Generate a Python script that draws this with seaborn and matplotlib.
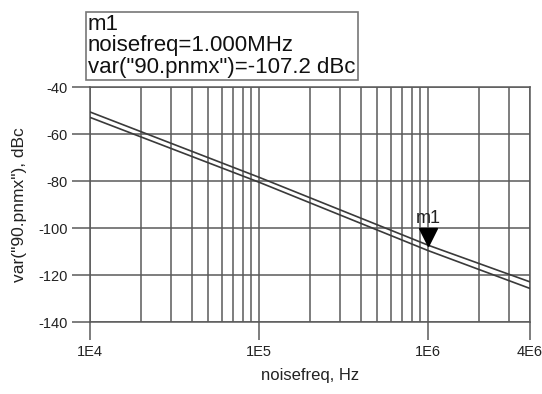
import matplotlib
matplotlib.use("Agg")
import matplotlib.pyplot as plt
import matplotlib.ticker as mticker
import matplotlib.transforms as mtransforms
import numpy as np
import pandas as pd
import seaborn as sns

# Phase noise of the two traces (dBc) versus offset frequency (Hz)
noisefreq = [1e4, 1e5, 1e6, 4e6]
trace_upper = [-50.5, -78.3, -107.2, -122.8]
trace_lower = [-52.8, -80.4, -109.5, -125.6]

x_ticks = [1e4, 1e5, 1e6, 4e6]
x_tick_labels = ["1E4", "1E5", "1E6", "4E6"]
y_ticks = [-140, -120, -100, -80, -60, -40]

marker_freq = 1e6
marker_value = -107.2
marker_name = "m1"

sns.set_theme(style="white")
plt.rcParams["font.family"] = ["Liberation Sans", "DejaVu Sans"]
plt.rcParams["axes.unicode_minus"] = False

df = pd.DataFrame({
    "noisefreq": noisefreq * 2,
    "value": trace_upper + trace_lower,
    "trace": ["upper"] * len(noisefreq) + ["lower"] * len(noisefreq),
})

fig = plt.figure(figsize=(5.42, 3.94), dpi=100)
ax = fig.add_axes([90 / 542, 1 - 322.3 / 394, (530 - 90) / 542, (322.3 - 87.3) / 394])

grid_color = "#5a5a5a"
sns.lineplot(data=df, x="noisefreq", y="value", hue="trace",
             palette={"upper": "#3a3a3a", "lower": "#3a3a3a"},
             linewidth=1.2, legend=False, ax=ax, zorder=3)

ax.set_xscale("log")
ax.set_xlim(1e4, 4e6)
ax.set_ylim(-140, -40)

ax.xaxis.set_major_locator(mticker.FixedLocator(x_ticks))
ax.xaxis.set_major_formatter(mticker.FixedFormatter(x_tick_labels))
ax.xaxis.set_minor_locator(mticker.LogLocator(base=10, subs=np.arange(2, 10), numticks=20))
ax.xaxis.set_minor_formatter(mticker.NullFormatter())
ax.yaxis.set_major_locator(mticker.FixedLocator(y_ticks))
ax.yaxis.set_minor_locator(mticker.MultipleLocator(10))

ax.xaxis.grid(True, which="both", color=grid_color, linewidth=1.1)
ax.yaxis.grid(True, which="major", color=grid_color, linewidth=1.1)
ax.set_axisbelow(True)

for s in ax.spines.values():
    s.set_visible(True)
    s.set_color(grid_color)
    s.set_linewidth(1.1)

ax.tick_params(axis="x", which="major", direction="out", length=13, width=1.1,
               color=grid_color, pad=3, labelsize=10.5, labelcolor="#222222")
ax.tick_params(axis="x", which="minor", length=0)
ax.tick_params(axis="y", which="major", direction="out", length=13, width=1.1,
               color=grid_color, pad=3, labelsize=10.5, labelcolor="#222222")
ax.tick_params(axis="y", which="minor", direction="out", length=7, width=1.1,
               color=grid_color)
ax.tick_params(bottom=True, left=True, top=False, right=False)

ax.set_xlabel("noisefreq, Hz", fontsize=12, color="#222222", labelpad=7)
ax.set_ylabel('var("90.pnmx"), dBc', fontsize=12.5, color="#222222", labelpad=8)

# marker: downward triangle with its tip on the trace
offset = mtransforms.ScaledTranslation(0, 8 / 100, fig.dpi_scale_trans)
ax.plot([marker_freq], [marker_value], marker="v", markersize=13, color="black",
        linestyle="none", transform=ax.transData + offset, zorder=5, clip_on=False)
ax.annotate(marker_name, (marker_freq, marker_value), xytext=(0, 13),
            textcoords="offset points", ha="center", va="bottom",
            fontsize=13, color="#222222", zorder=6)

# marker readout box
readout = (f"{marker_name}\nnoisefreq={marker_freq / 1e6:.3f}MHz\n"
           f'var("90.pnmx")={marker_value:.1f} dBc')
fig.text(88 / 542, 1 - 46 / 394, readout, ha="left", va="center",
         fontsize=16, linespacing=1.02, color="#111111",
         bbox=dict(boxstyle="square,pad=0.1", facecolor="white",
                   edgecolor="#777777", linewidth=1.2))

fig.savefig("out.png", dpi=100)
